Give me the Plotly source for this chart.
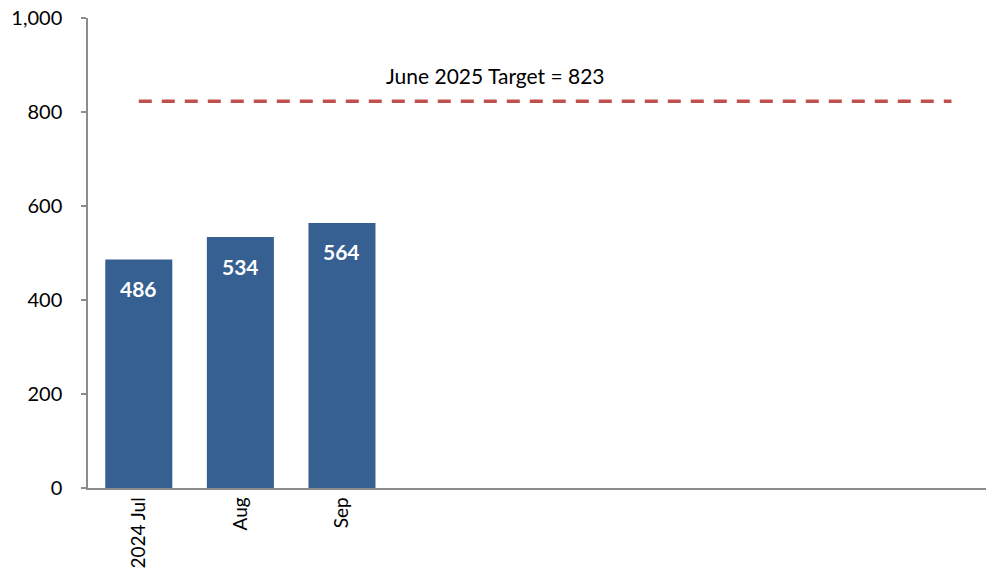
import plotly.graph_objects as go

months = ["2024 Jul", "Aug", "Sep", "Oct", "Nov", "Dec", "Jan", "Feb", "Mar"]
values = [486, 534, 564]
target = 823
target_label = "June 2025 Target = 823"
y_ticks = [0, 200, 400, 600, 800, 1000]
y_tick_text = ["0", "200", "400", "600", "800", "1,000"]

FONT = "Lato, Carlito, Calibri, sans-serif"
AXIS_GREY = "#8c8c8c"

fig = go.Figure()
fig.add_trace(go.Bar(
    x=months[:len(values)], y=values,
    marker=dict(color="#376092", line=dict(width=0)),
    hoverinfo="x+y", showlegend=False,
))
fig.add_trace(go.Scatter(
    x=months, y=[target] * len(months), mode="lines",
    line=dict(color="#C0504D", width=3.5, dash="13px,10px"),
    showlegend=False, hoverinfo="skip",
))

for m, v in zip(months, values):
    fig.add_annotation(x=m, y=v, text=f"<b>{v}</b>", showarrow=False,
                       yshift=-29, font=dict(family=FONT, size=21, color="white"))

fig.add_annotation(x=3.51, y=target, text=target_label, showarrow=False,
                   yshift=26, font=dict(family=FONT, size=21, color="black"))

fig.update_layout(
    width=987, height=574,
    margin=dict(l=88, r=1, t=18, b=86, autoexpand=False),
    paper_bgcolor="white", plot_bgcolor="white",
    bargap=0.34,
    font=dict(family=FONT, size=17, color="black"),
)
fig.update_xaxes(
    type="category", categoryorder="array", categoryarray=months,
    range=[-0.5, 8.34], automargin=False,
    tickmode="array", tickvals=months[:len(values)], ticktext=months[:len(values)],
    tickangle=-90, tickfont=dict(family=FONT, size=19, color="black"),
    showline=True, linecolor=AXIS_GREY, linewidth=1.5,
    ticks="", showgrid=False, zeroline=False,
)
fig.update_yaxes(
    range=[0, 1000], automargin=False,
    tickmode="array", tickvals=y_ticks, ticktext=y_tick_text,
    tickfont=dict(family=FONT, size=20, color="black"),
    showline=True, linecolor=AXIS_GREY, linewidth=1.5,
    ticks="outside", ticklen=5, tickcolor=AXIS_GREY, tickwidth=1.5,
    ticklabelstandoff=15,
    showgrid=False, zeroline=False,
)

# remove the page's default 8px body margin so the figure sits at (0, 0)
fig.write_html("out.html", config={"displayModeBar": False},
               post_script="document.body.style.margin='0';")
